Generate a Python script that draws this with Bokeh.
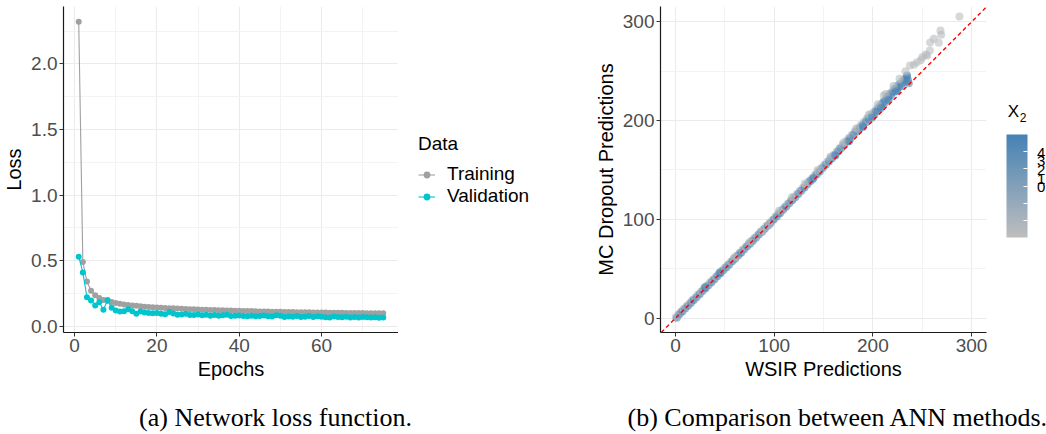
from bokeh.plotting import figure
from bokeh.models import (FixedTicker, Legend, LegendItem, Slope, LinearColorMapper,
                          ColorBar, Label, Range1d, PrintfTickFormatter, ColumnDataSource)
from bokeh.layouts import column, row
from bokeh.embed import file_html
from bokeh.resources import INLINE

# ---------------- data: (a) network loss ----------------
epochs = list(range(1, 76))
train_loss = [2.32, 0.49, 0.34, 0.27, 0.235, 0.215, 0.2, 0.192, 0.184, 0.177,
              0.171, 0.166, 0.162, 0.158, 0.155, 0.152, 0.149, 0.147, 0.145, 0.143,
              0.141, 0.139, 0.137, 0.136, 0.134, 0.133, 0.131, 0.13, 0.129, 0.128,
              0.126, 0.125, 0.124, 0.123, 0.122, 0.121, 0.12, 0.119, 0.118, 0.117,
              0.116, 0.116, 0.115, 0.114, 0.113, 0.113, 0.112, 0.111, 0.111, 0.11,
              0.109, 0.109, 0.108, 0.107, 0.107, 0.106, 0.106, 0.105, 0.105, 0.104,
              0.104, 0.103, 0.103, 0.102, 0.102, 0.101, 0.101, 0.1, 0.1, 0.1,
              0.099, 0.099, 0.098, 0.098, 0.098]
val_loss = [0.53, 0.41, 0.22, 0.196, 0.158, 0.183, 0.125, 0.2, 0.14, 0.12,
            0.112, 0.114, 0.13, 0.114, 0.094, 0.112, 0.105, 0.1, 0.098, 0.1,
            0.094, 0.092, 0.108, 0.096, 0.088, 0.09, 0.095, 0.085, 0.086, 0.09,
            0.083, 0.087, 0.08, 0.085, 0.079, 0.083, 0.088, 0.078, 0.08, 0.082,
            0.078, 0.076, 0.08, 0.075, 0.078, 0.081, 0.076, 0.074, 0.084, 0.079,
            0.07, 0.074, 0.072, 0.077, 0.071, 0.073, 0.078, 0.07, 0.075, 0.072,
            0.069, 0.066, 0.074, 0.07, 0.068, 0.072, 0.067, 0.071, 0.066, 0.07,
            0.068, 0.066, 0.069, 0.065, 0.066]
series_names = ["Training", "Validation"]

# ---------------- data: (b) WSIR vs MC dropout ----------------
wsir = [0.3, 1.5, 2.8, 4.1, 5.6, 7.0, 8.3, 9.9, 11.2, 12.8, 14.1, 15.7, 17.0, 18.6, 20.1,
        21.5, 23.0, 24.6, 26.0, 27.5, 29.1, 30.6, 32.0, 33.6, 35.1, 36.5, 38.0, 39.6, 41.1,
        42.5, 44.0, 45.6, 47.1, 48.5, 50.0, 51.6, 53.1, 54.5, 56.0, 57.6, 59.1, 60.5, 62.0,
        63.6, 65.1, 66.5, 68.0, 69.6, 71.1, 72.5, 74.0, 75.6, 77.1, 78.5, 80.0, 81.6, 83.1,
        84.5, 86.0, 87.6, 89.1, 90.5, 92.0, 93.6, 95.1, 96.5, 98.0, 99.6,
        101.2, 102.8, 104.3, 105.9, 107.4, 109.0, 110.5, 112.1, 113.6, 115.2, 116.7, 118.3,
        119.8, 121.4, 122.9, 124.5, 126.0, 127.6, 129.1, 130.7, 132.2, 133.8, 135.3, 136.9,
        138.4, 140.0, 141.5, 143.1, 144.6, 146.2, 147.7, 149.3, 150.8, 152.4, 153.9, 155.5,
        157.0, 158.6, 160.1, 161.7, 163.2, 164.8, 166.3, 167.9, 169.4, 171.0, 172.5, 174.1,
        175.6, 177.2, 178.7, 180.3, 181.8, 183.4, 184.9, 186.5, 188.0, 189.6, 191.1, 192.7,
        194.2, 195.8, 197.3, 198.9,
        200.4, 201.5, 202.6, 203.8, 204.9, 206.0, 207.2, 208.3, 209.4, 210.6, 211.0, 211.7,
        212.8, 214.0, 215.1, 216.2, 217.4, 218.5, 219.6, 220.8, 221.9, 223.0, 224.2, 225.3,
        226.4, 227.6, 228.7, 229.8, 231.0, 232.1, 233.2, 234.3, 234.7, 236.4, 235.5,
        233.0, 237.6, 241.6, 244.8, 248.5, 250.0, 253.3, 255.0, 257.7, 261.8, 266.8, 268.5,
        269.2, 287.7, 258.0,
        105.0, 118.0, 131.0, 144.0, 157.0, 170.0, 183.0, 196.0, 205.0, 213.0, 221.0, 227.0,
        139.0, 162.0, 176.0, 190.0, 199.0, 208.0, 216.0, 224.0, 60.0, 75.0, 88.0, 95.0,
        30.0, 45.0]
mc = [0.8, 0.5, 3.6, 3.9, 6.4, 6.8, 9.2, 9.7, 12.1, 12.5, 15.0, 15.4, 18.1, 18.3, 21.0,
      21.2, 24.1, 24.3, 27.0, 27.4, 30.2, 30.3, 33.2, 33.4, 36.3, 36.4, 39.0, 39.5, 42.3,
      42.4, 45.1, 45.5, 48.2, 48.4, 51.3, 51.4, 54.2, 54.3, 57.0, 57.5, 60.3, 60.2, 63.2,
      63.4, 66.1, 66.2, 69.3, 69.4, 72.2, 72.5, 75.1, 75.4, 78.3, 78.4, 81.2, 81.5, 84.0,
      84.6, 87.3, 87.4, 90.1, 90.6, 93.3, 93.5, 96.2, 96.4, 99.2, 99.8,
      102.6, 102.9, 105.9, 106.3, 109.4, 109.6, 112.4, 112.8, 115.8, 116.0, 118.9, 119.3,
      122.3, 122.4, 125.6, 125.8, 128.7, 129.0, 132.1, 132.3, 135.4, 135.5, 138.6, 138.8,
      142.0, 142.2, 145.3, 145.4, 148.5, 148.6, 151.8, 152.0, 155.2, 155.3, 158.6, 158.6,
      161.9, 162.0, 165.3, 165.3, 168.6, 168.7, 172.1, 172.0, 175.6, 175.4, 179.0, 178.8,
      182.3, 182.0, 185.6, 185.3, 189.0, 188.6, 192.3, 191.9, 195.6, 195.0, 198.9, 198.2,
      202.3, 201.5, 205.6, 204.6,
      208.5, 206.0, 209.0, 211.8, 210.2, 213.5, 215.6, 214.0, 216.8, 219.0, 225.4, 217.8,
      220.5, 223.6, 221.8, 224.9, 227.5, 225.6, 228.8, 231.5, 229.4, 232.5, 230.6, 235.7,
      233.8, 237.4, 235.0, 240.1, 238.6, 241.8, 239.5, 244.2, 245.6, 237.8, 241.0,
      250.0, 255.8, 256.5, 259.0, 261.0, 264.2, 266.9, 266.0, 271.0, 282.8, 278.8, 291.2,
      286.9, 305.4, 279.0,
      108.8, 122.5, 136.4, 149.9, 163.5, 177.6, 192.0, 206.1, 216.5, 226.8, 234.9, 242.3,
      141.0, 164.6, 179.2, 193.5, 203.0, 212.6, 221.0, 229.7, 61.6, 76.8, 87.6, 94.2,
      31.5, 46.2]
x2 = [0.2, 3.1, -0.6, 3.8, 1.0, 4.2, -0.2, 3.5, 0.5, 4.4, -0.8, 3.9, 1.3, 4.6, -0.1,
      3.3, 0.7, 4.1, -0.5, 3.6, 1.6, 4.5, 0.0, 3.0, -0.7, 4.3, 0.9, 3.7, -0.3,
      4.0, 1.4, 4.7, 0.3, 3.4, -0.4, 4.2, 1.1, 3.8, -0.6, 4.5, 0.6, 3.2, -0.2,
      4.1, 1.7, 4.6, 0.1, 3.6, -0.8, 4.3, 1.0, 3.9, -0.1, 4.4, 0.8, 3.1, -0.5,
      4.0, 1.5, 4.7, 0.4, 3.5, -0.3, 4.2, 1.2, 3.8, -0.7, 4.5,
      0.2, 4.0, 1.6, 4.6, -0.4, 3.7, 0.9, 4.3, -0.2, 3.3, 1.4, 4.5,
      0.0, 3.9, -0.6, 4.2, 1.0, 3.6, 0.5, 4.7, -0.3, 3.4, 1.8, 4.4,
      -0.7, 3.8, 0.7, 4.1, -0.1, 4.6, 1.3, 3.5, 0.1, 4.3, -0.5, 3.9,
      1.1, 4.5, 0.3, 3.7, -0.4, 4.2, 1.5, 3.6, 0.0, 4.7, -0.8, 4.0,
      0.8, 3.3, -0.2, 4.4, 1.2, 3.8, -0.6, 4.6, 0.6, 3.5, -0.1, 4.1,
      1.7, 4.5, 0.2, 3.9,
      -0.3, 4.2, 3.8, 1.3, 4.6, 3.6, 0.0, 4.4, 3.9, 4.7, -0.7, 4.1,
      3.5, 0.9, 4.5, 4.0, 1.8, 4.6, 3.7, -0.4, 4.3, 4.8, 3.9, 1.5,
      4.4, 4.0, 4.7, 0.4, 4.2, 3.8, 4.5, 4.1, 4.6, 4.3, 4.8,
      -0.8, -0.9, -0.6, -0.7, -1.0, -0.5, -0.8, -0.4, -0.9, -0.7, -1.0, -0.8,
      -0.6, -0.9, -0.8,
      -0.6, -0.3, -0.8, -0.5, -0.2, -0.7, -0.4, -0.6, -0.5, -0.3, -0.1, -0.6,
      4.4, 4.6, 4.2, 4.8, 4.5, 4.7, 4.3, 4.6, -0.5, -0.2, -0.7, -0.4,
      4.3, 4.5]
x2_ticks = [0, 1, 2, 3, 4]
x2_limits = [-1, 5]
captions = ["(a) Network loss function.", "(b) Comparison between ANN methods."]

FONT = "Liberation Sans"
GRAY = "#A0A0A0"
CYAN = "#00C5CD"
H = 382
TOP, BOTTOM = 6, 50          # frame spans canvas y 6 .. 332


def no_align(p):
    try:
        p.frame_align = False
    except Exception:
        pass


def style(p):
    for ax in (p.xaxis[0], p.yaxis[0]):
        ax.axis_line_color = "#1A1A1A"
        ax.axis_line_width = 1.2
        ax.major_tick_line_color = "#333333"
        ax.major_tick_in = 0
        ax.major_tick_out = 4
        ax.minor_tick_line_color = None
        ax.major_label_text_font = FONT
        ax.major_label_text_font_size = "19px"
        ax.major_label_text_color = "#4D4D4D"
        ax.axis_label_text_font = FONT
        ax.axis_label_text_font_size = "20px"
        ax.axis_label_text_font_style = "normal"
        ax.axis_label_text_color = "#000000"
        ax.major_label_standoff = 2
        ax.axis_label_standoff = 3
    p.grid.grid_line_color = "#EBEBEB"
    p.grid.grid_line_width = 1.1
    p.grid.minor_grid_line_color = "#F3F3F3"
    p.grid.minor_grid_line_width = 1
    p.outline_line_color = None
    no_align(p)


def side_panel(w):
    # frame matches the plots' frame; data units = canvas pixels measured from the canvas bottom
    q = figure(width=w, height=H, x_range=Range1d(0, w), y_range=Range1d(BOTTOM, H - TOP),
               output_backend="svg", toolbar_location=None, title=None,
               x_axis_type=None, y_axis_type=None,
               min_border_left=0, min_border_right=0, min_border_top=TOP, min_border_bottom=BOTTOM)
    q.outline_line_color = None
    no_align(q)
    return q


# ---------------- figure (a) ----------------
pA = figure(width=398, height=H, x_range=Range1d(-2.7, 78.7), y_range=Range1d(-0.048, 2.437),
            output_backend="svg", toolbar_location=None, title=None,
            min_border_left=63, min_border_right=0, min_border_top=TOP, min_border_bottom=BOTTOM)
pA.xaxis.ticker = FixedTicker(ticks=[0, 20, 40, 60], minor_ticks=[10, 30, 50, 70])
pA.yaxis.ticker = FixedTicker(ticks=[0, 0.5, 1.0, 1.5, 2.0], minor_ticks=[0.25, 0.75, 1.25, 1.75, 2.25])
pA.yaxis.formatter = PrintfTickFormatter(format="%.1f")
pA.xaxis.axis_label = "Epochs"
pA.yaxis.axis_label = "Loss"
style(pA)

pA.line(epochs, train_loss, line_color=GRAY, line_width=1.1)
pA.scatter(epochs, train_loss, size=6, fill_color=GRAY, line_color=None)
pA.line(epochs, val_loss, line_color=CYAN, line_width=1.1)
pA.scatter(epochs, val_loss, size=6, fill_color=CYAN, line_color=None)

# ---------------- legend panel (keys drawn by renderers of the same series, which fall
# outside this panel's frame and are therefore clipped) ----------------
pL = side_panel(192)
k1 = pL.line(epochs, train_loss, line_color=GRAY, line_width=1.1)
k1s = pL.scatter(epochs, train_loss, size=6, fill_color=GRAY, line_color=None)
k2 = pL.line(epochs, val_loss, line_color=CYAN, line_width=1.1)
k2s = pL.scatter(epochs, val_loss, size=6, fill_color=CYAN, line_color=None)
legend = Legend(items=[LegendItem(label=series_names[0], renderers=[k1, k1s]),
                       LegendItem(label=series_names[1], renderers=[k2, k2s])],
                location=(20, 125), title="Data",
                title_text_font=FONT, title_text_font_size="19px", title_text_font_style="normal",
                title_text_color="#000000", title_standoff=8,
                label_text_font=FONT, label_text_font_size="19px", label_text_color="#000000",
                glyph_width=17, glyph_height=19, label_height=19, label_standoff=12,
                spacing=-3, padding=0, margin=0,
                border_line_color=None, background_fill_alpha=0)
pL.add_layout(legend)

# ---------------- figure (b) ----------------
pB = figure(width=398, height=H, x_range=Range1d(-15.2, 315.1), y_range=Range1d(-14.5, 315.5),
            output_backend="svg", toolbar_location=None, title=None,
            min_border_left=70, min_border_right=2, min_border_top=TOP, min_border_bottom=BOTTOM)
pB.xaxis.ticker = FixedTicker(ticks=[0, 100, 200, 300], minor_ticks=[50, 150, 250])
pB.yaxis.ticker = FixedTicker(ticks=[0, 100, 200, 300], minor_ticks=[50, 150, 250])
pB.xaxis.axis_label = "WSIR Predictions"
pB.yaxis.axis_label = "MC Dropout Predictions"
style(pB)

lo = (190, 190, 190)
hi = (70, 130, 180)
palette = ["#%02x%02x%02x" % tuple(int(round(lo[k] + (hi[k] - lo[k]) * i / 255)) for k in range(3))
           for i in range(256)]
mapper = LinearColorMapper(palette=palette, low=x2_limits[0], high=x2_limits[1])

src = ColumnDataSource(dict(wsir=wsir, mc=mc, x2=x2))
pB.scatter("wsir", "mc", source=src, size=8,
           fill_color={"field": "x2", "transform": mapper}, fill_alpha=0.6, line_color=None)
pB.add_layout(Slope(gradient=1, y_intercept=0, line_color="red", line_dash="4 3", line_width=1.4))

# ---------------- colour bar panel ----------------
pK = side_panel(58)
cbar = ColorBar(color_mapper=mapper, location=(18, 95), width=21, height=103, padding=0,
                ticker=FixedTicker(ticks=x2_ticks),
                major_label_overrides={t: "" for t in x2_ticks},
                major_tick_line_color="white", major_tick_in=4, major_tick_out=0,
                bar_line_color=None, border_line_color=None, background_fill_alpha=0)
pK.add_layout(cbar)
pK.add_layout(Label(x=19.3, y=H - 111, text="X", text_font=FONT, text_font_size="17px",
                    text_baseline="middle", text_color="#000000"))
pK.add_layout(Label(x=31.3, y=H - 117, text="2", text_font=FONT, text_font_size="12px",
                    text_baseline="middle", text_color="#000000"))
label_y = [152, 160.7, 169.4, 178.1, 186.8]
for t, yy in zip(sorted(x2_ticks, reverse=True), label_y):
    pK.add_layout(Label(x=48.5, y=H - yy, text=str(t), text_font=FONT, text_font_size="15px",
                        text_baseline="middle", text_color="#000000"))

# ---------------- captions ----------------
pC = figure(width=1046, height=52, x_range=Range1d(0, 1046), y_range=Range1d(0, 52),
            output_backend="svg", toolbar_location=None, title=None,
            x_axis_type=None, y_axis_type=None, min_border=0)
pC.outline_line_color = None
no_align(pC)
for cx, txt in zip([275, 837.5], captions):
    pC.add_layout(Label(x=cx, y=17, text=txt, text_font="Liberation Serif", text_font_size="26px",
                        text_align="center", text_baseline="middle", text_color="#000000"))

layout = column(row(pA, pL, pB, pK), pC)
open("out.html", "w").write(file_html(layout, INLINE))
